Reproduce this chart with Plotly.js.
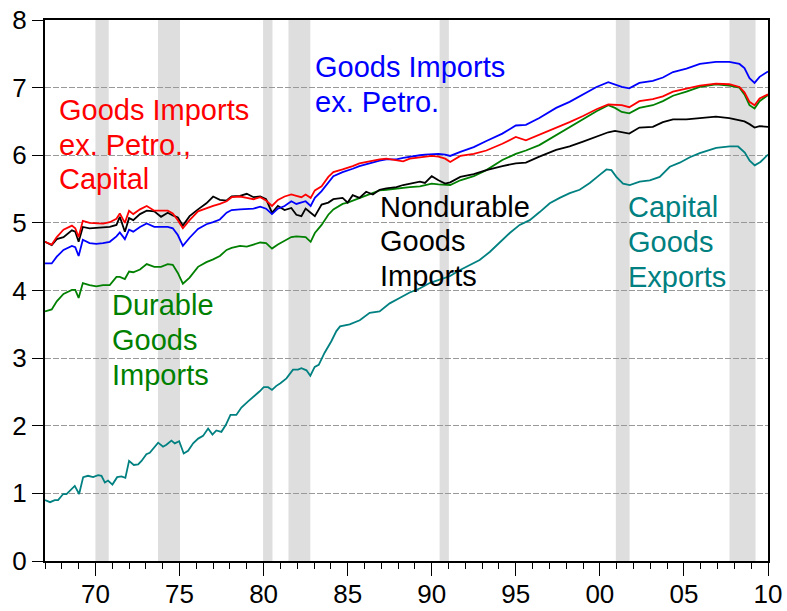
<!DOCTYPE html>
<html>
<head>
<meta charset="utf-8">
<script src="https://cdn.plot.ly/plotly-3.0.1.min.js"></script>
<style>
  html, body { margin: 0; padding: 0; background: #ffffff; }
  #chart { width: 787px; height: 611px; }
</style>
</head>
<body>
<div id="chart"></div>
<script>
// ---- Data (log levels, quarterly-ish readings from the picture) ----
const importDates = [
  1967.0, 1967.4, 1967.7, 1968.1, 1968.6, 1968.8, 1969.0, 1969.25, 1969.65, 1970.05, 1970.45, 1970.85, 1971.25, 1971.45, 1971.75, 1972.0, 1972.25, 1972.65, 1973.05, 1973.5, 1973.9, 1974.3, 1974.6, 1974.9, 1975.2, 1975.6, 1976.1,
  1976.6, 1977.0, 1977.4, 1977.8, 1978.1, 1978.6, 1979.0, 1979.4, 1979.8, 1980.15, 1980.5, 1980.85, 1981.25, 1981.65, 1981.95, 1982.25, 1982.5, 1982.8, 1983.05, 1983.45, 1983.85, 1984.15, 1984.7,
  1985.0, 1985.3, 1985.7, 1986.1, 1986.5, 1986.9, 1987.3, 1987.9, 1988.3, 1988.7, 1989.3, 1989.6, 1990.0, 1990.4, 1990.8, 1991.1, 1991.7, 1992.5, 1993.25,
  1994.2, 1995.0, 1995.6, 1996.4, 1997.4, 1998.2, 1999.0, 1999.8, 2000.5, 2000.9, 2001.3, 2001.75,
  2002.35, 2003.15, 2003.75, 2004.35, 2005.15, 2005.95, 2006.9, 2007.7, 2008.3, 2008.6, 2008.9, 2009.2, 2009.5, 2010.0
];

const goodsExPetroCapital = [
  4.72, 4.68, 4.79, 4.90, 4.96, 4.92, 4.79, 5.03, 5.00, 4.99, 4.99, 5.01, 5.06, 5.14, 5.00, 5.18, 5.13, 5.20, 5.25, 5.18, 5.18, 5.18, 5.14, 5.04, 4.92, 5.04, 5.17,
  5.22, 5.25, 5.28, 5.32, 5.38, 5.39, 5.37, 5.35, 5.38, 5.33, 5.25, 5.34, 5.39, 5.42, 5.40, 5.38, 5.42, 5.37, 5.48, 5.54, 5.68, 5.75, 5.79,
  5.81, 5.84, 5.88, 5.90, 5.93, 5.94, 5.95, 5.93, 5.91, 5.95, 5.97, 5.97, 5.99, 5.98, 5.95, 5.90, 5.99, 6.02, 6.07,
  6.17, 6.27, 6.22, 6.30, 6.40, 6.49, 6.58, 6.68, 6.75, 6.75, 6.74, 6.71,
  6.80, 6.83, 6.87, 6.94, 6.98, 7.03, 7.06, 7.05, 7.01, 6.93, 6.79, 6.74, 6.84, 6.90
];

const goodsExPetro = [
  4.40, 4.40, 4.50, 4.60, 4.66, 4.64, 4.51, 4.75, 4.70, 4.69, 4.70, 4.72, 4.80, 4.86, 4.76, 4.90, 4.87, 4.94, 4.99, 4.94, 4.94, 4.94, 4.92, 4.82, 4.66, 4.78, 4.91,
  4.98, 5.01, 5.05, 5.15, 5.19, 5.20, 5.20, 5.21, 5.24, 5.21, 5.13, 5.21, 5.25, 5.32, 5.28, 5.30, 5.32, 5.25, 5.37, 5.47, 5.60, 5.69, 5.75,
  5.77, 5.80, 5.84, 5.87, 5.90, 5.92, 5.94, 5.94, 5.96, 5.98, 6.00, 6.01, 6.02, 6.02, 6.01, 5.99, 6.05, 6.12, 6.21,
  6.32, 6.44, 6.45, 6.55, 6.70, 6.79, 6.90, 7.01, 7.08, 7.05, 7.01, 6.99,
  7.07, 7.10, 7.15, 7.23, 7.28, 7.35, 7.38, 7.38, 7.35, 7.29, 7.14, 7.07, 7.16, 7.24
];

const nondurableImports = [
  4.72, 4.67, 4.76, 4.79, 4.89, 4.87, 4.72, 4.94, 4.92, 4.93, 4.93, 4.94, 4.97, 5.09, 4.87, 5.07, 5.04, 5.13, 5.18, 5.17, 5.09, 5.15, 5.11, 5.08, 4.96, 5.10, 5.20,
  5.29, 5.39, 5.34, 5.33, 5.39, 5.40, 5.43, 5.38, 5.39, 5.35, 5.15, 5.25, 5.19, 5.22, 5.12, 5.10, 5.21, 5.15, 5.10, 5.27, 5.30, 5.35, 5.37,
  5.30, 5.41, 5.37, 5.46, 5.42, 5.49, 5.51, 5.53, 5.56, 5.58, 5.61, 5.59, 5.69, 5.63, 5.58, 5.60, 5.68, 5.72, 5.78,
  5.84, 5.88, 5.89, 5.98, 6.08, 6.13, 6.20, 6.27, 6.34, 6.36, 6.34, 6.32,
  6.41, 6.42, 6.49, 6.53, 6.53, 6.55, 6.57, 6.55, 6.52, 6.50, 6.46, 6.41, 6.43, 6.42
];

const durableImports = [
  3.69, 3.72, 3.84, 3.95, 4.01, 4.01, 3.89, 4.11, 4.08, 4.06, 4.08, 4.08, 4.20, 4.20, 4.17, 4.28, 4.27, 4.31, 4.39, 4.35, 4.35, 4.39, 4.38, 4.26, 4.10, 4.19, 4.35,
  4.42, 4.46, 4.51, 4.60, 4.63, 4.66, 4.65, 4.68, 4.71, 4.70, 4.62, 4.68, 4.73, 4.79, 4.80, 4.79, 4.79, 4.72, 4.85, 4.97, 5.12, 5.20, 5.28,
  5.30, 5.33, 5.37, 5.41, 5.45, 5.48, 5.49, 5.51, 5.52, 5.53, 5.54, 5.56, 5.58, 5.57, 5.56, 5.56, 5.63, 5.69, 5.78,
  5.93, 6.02, 6.07, 6.15, 6.30, 6.42, 6.53, 6.65, 6.74, 6.70, 6.64, 6.62,
  6.70, 6.74, 6.80, 6.88, 6.94, 7.01, 7.05, 7.03, 7.00, 6.90, 6.74, 6.69, 6.80, 6.89
];

const exportDates = [
  1967.0, 1967.3, 1967.58, 1967.78, 1968.08, 1968.28, 1968.77, 1969.03, 1969.27, 1969.56, 1969.86, 1970.16, 1970.36, 1970.56, 1970.75, 1971.01, 1971.29, 1971.55, 1971.78,
  1972.0, 1972.28, 1972.54, 1972.74, 1973.03, 1973.23, 1973.53, 1973.73, 1974.02, 1974.22, 1974.52, 1974.72, 1974.98, 1975.25, 1975.51, 1975.81,
  1976.11, 1976.4, 1976.7, 1976.96, 1977.19, 1977.49, 1977.75, 1978.03, 1978.38, 1978.68, 1979.08, 1979.47, 1979.77, 1980.01, 1980.27, 1980.5, 1980.76,
  1981.0, 1981.36, 1981.75, 1982.05, 1982.25, 1982.55, 1982.78, 1983.04, 1983.28, 1983.63, 1984.03, 1984.33, 1984.55,
  1985.12, 1985.72, 1986.31, 1986.9, 1987.5, 1988.09, 1988.69, 1989.28, 1989.88, 1990.47, 1991.07, 1991.66, 1992.26, 1992.85,
  1993.45, 1994.04, 1994.64, 1995.23, 1995.83, 1996.42, 1997.02, 1997.61, 1998.21, 1998.8, 1999.4, 1999.99, 2000.39, 2000.69, 2000.98,
  2001.38, 2001.78, 2002.37, 2002.97, 2003.56, 2004.16, 2004.75, 2005.35, 2005.94, 2006.54, 2006.92, 2007.73, 2008.22, 2008.62, 2008.91,
  2009.21, 2009.55, 2010.0
];

const capitalGoodsExports = [
  0.90, 0.87, 0.90, 0.90, 0.99, 0.99, 1.11, 0.99, 1.24, 1.26, 1.24, 1.27, 1.26, 1.16, 1.19, 1.13, 1.24, 1.25, 1.23,
  1.48, 1.42, 1.43, 1.48, 1.58, 1.60, 1.70, 1.75, 1.69, 1.72, 1.78, 1.74, 1.77, 1.59, 1.63, 1.74,
  1.81, 1.85, 1.96, 1.87, 1.93, 1.91, 2.01, 2.16, 2.16, 2.27, 2.36, 2.44, 2.51, 2.57, 2.57, 2.53, 2.59,
  2.63, 2.70, 2.83, 2.83, 2.85, 2.82, 2.74, 2.87, 2.90, 3.08, 3.25, 3.40, 3.47,
  3.50, 3.56, 3.67, 3.69, 3.81, 3.89, 3.97, 4.03, 4.11, 4.16, 4.21, 4.30, 4.38, 4.45,
  4.57, 4.71, 4.85, 4.97, 5.04, 5.16, 5.29, 5.37, 5.44, 5.49, 5.59, 5.71, 5.79, 5.78, 5.68,
  5.58, 5.56, 5.61, 5.63, 5.68, 5.83, 5.89, 5.97, 6.03, 6.08, 6.11, 6.13, 6.13, 6.04, 5.92,
  5.85, 5.90, 6.01
];

// Recession bands (start, end) in years
const recessionStarts = [1970.0, 1973.72, 1979.97, 1981.48, 1990.47, 2000.95, 2007.71];
const recessionEnds   = [1970.79, 1975.03, 1980.53, 1982.78, 1991.02, 2001.77, 2009.26];

// Axis ticks
const xTickVals = [1970, 1975, 1980, 1985, 1990, 1995, 2000, 2005, 2010];
const xTickText = ['70', '75', '80', '85', '90', '95', '00', '05', '10'];
const yTickVals = [0, 1, 2, 3, 4, 5, 6, 7, 8];

// Series labels (one entry per text line)
const labelGoodsExPetroCapital = ['Goods Imports', 'ex. Petro.,', 'Capital'];
const labelGoodsExPetro = ['Goods Imports', 'ex. Petro.'];
const labelNondurable = ['Nondurable', 'Goods', 'Imports'];
const labelDurable = ['Durable', 'Goods', 'Imports'];
const labelCapExports = ['Capital', 'Goods', 'Exports'];

const FONT = '"Liberation Sans", Arial, Helvetica, sans-serif';
const LW = 1.8;
const LABEL_SIZE = 29;
const LINE_STEP = 0.512; // vertical step between label lines, in y units

function line(x, y, color, name) {
  return { x: x, y: y, type: 'scatter', mode: 'lines', name: name,
           line: { color: color, width: LW }, hoverinfo: 'skip' };
}

const traces = [
  line(exportDates, capitalGoodsExports, '#008080', 'Capital Goods Exports'),
  line(importDates, durableImports, '#008000', 'Durable Goods Imports'),
  line(importDates, nondurableImports, '#000000', 'Nondurable Goods Imports'),
  line(importDates, goodsExPetro, '#0000ff', 'Goods Imports ex. Petro.'),
  line(importDates, goodsExPetroCapital, '#ff0000', 'Goods Imports ex. Petro., Capital')
];

const shapes = recessionStarts.map((s, i) => ({
  type: 'rect', xref: 'x', yref: 'paper', x0: s, x1: recessionEnds[i], y0: 0, y1: 1,
  fillcolor: '#dedede', line: { width: 0 }, layer: 'below'
}));

function label(lines, x, yTop, color) {
  return lines.map((t, i) => ({
    text: t, x: x, y: yTop - i * LINE_STEP, xref: 'x', yref: 'y',
    xanchor: 'left', yanchor: 'middle', align: 'left', showarrow: false,
    font: { family: FONT, size: LABEL_SIZE, color: color }
  }));
}

const annotations = [].concat(
  label(labelGoodsExPetroCapital, 1967.72, 6.67, '#ff0000'),
  label(labelGoodsExPetro, 1982.92, 7.30, '#0000ff'),
  label(labelNondurable, 1986.78, 5.24, '#000000'),
  label(labelDurable, 1970.88, 3.78, '#008000'),
  label(labelCapExports, 2001.53, 5.23, '#008080')
);

const layout = {
  width: 787, height: 611,
  margin: { l: 45, r: 19, t: 20, b: 50, pad: 0 },
  paper_bgcolor: '#ffffff', plot_bgcolor: '#ffffff',
  showlegend: false,
  font: { family: FONT, size: 26, color: '#000000' },
  xaxis: {
    range: [1967, 2010], fixedrange: true,
    tickmode: 'array', tickvals: xTickVals, ticktext: xTickText,
    ticks: 'outside', ticklen: 13, tickwidth: 1, tickcolor: '#000000',
    ticklabelstandoff: -4,
    minor: { tickmode: 'linear', tick0: 1967, dtick: 1, ticks: 'outside', ticklen: 6, tickwidth: 1, tickcolor: '#000000', showgrid: false },
    showgrid: false, zeroline: false,
    showline: true, mirror: true, linewidth: 2, linecolor: '#000000',
    tickfont: { family: FONT, size: 26, color: '#000000' }
  },
  yaxis: {
    range: [0, 8], fixedrange: true,
    tickmode: 'array', tickvals: yTickVals,
    ticks: 'outside', ticklen: 11, tickwidth: 1, tickcolor: '#000000',
    showgrid: true, gridcolor: '#999999', gridwidth: 1, griddash: '6px,2px',
    zeroline: false,
    showline: true, mirror: true, linewidth: 2, linecolor: '#000000',
    tickfont: { family: FONT, size: 26, color: '#000000' }
  },
  shapes: shapes,
  annotations: annotations
};

Plotly.newPlot('chart', traces, layout, { staticPlot: true, displayModeBar: false });
</script>
</body>
</html>
